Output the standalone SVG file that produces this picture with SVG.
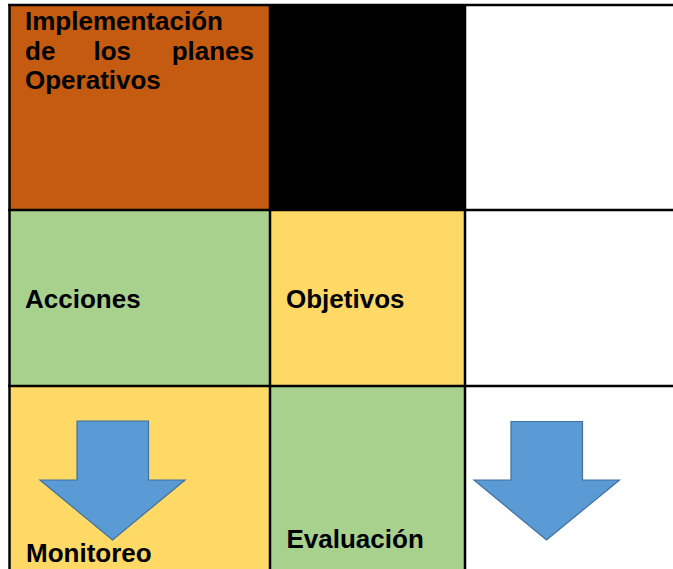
<svg xmlns="http://www.w3.org/2000/svg" width="673" height="569" viewBox="0 0 673 569">
<style>
.t{font-family:"Liberation Sans",Arial,sans-serif;font-weight:bold;font-size:26px;fill:#000}
.g{stroke:#000;stroke-width:2.5;fill:none}
.arrow{fill:#5B9BD5;stroke:#41719C;stroke-width:1.2}
</style>
<rect width="673" height="569" fill="#fff"/>
<g id="cell-implementacion">
<rect x="10" y="5" width="260" height="205" fill="#C55A11"/>
<text class="t" x="25" y="30">Implementación</text>
<text class="t" x="25" y="59.5">de</text>
<text class="t" x="93.5" y="59.5">los</text>
<text class="t" x="254" y="59.5" text-anchor="end">planes</text>
<text class="t" x="25" y="89">Operativos</text>
</g>
<g id="cell-black"><rect x="270" y="5" width="195" height="205" fill="#000"/></g>
<g id="cell-acciones">
<rect x="10" y="210" width="260" height="176" fill="#A9D18E"/>
<text class="t" x="25" y="307.5">Acciones</text>
</g>
<g id="cell-objetivos">
<rect x="270" y="210" width="195" height="176" fill="#FFD966"/>
<text class="t" x="286" y="307.5">Objetivos</text>
</g>
<g id="cell-monitoreo">
<rect x="10" y="386" width="260" height="183" fill="#FFD966"/>
<text class="t" x="26" y="562">Monitoreo</text>
</g>
<g id="cell-evaluacion">
<rect x="270" y="386" width="195" height="183" fill="#A9D18E"/>
<text class="t" x="286.5" y="547.5">Evaluación</text>
</g>
<g id="grid">
<line class="g" x1="8" y1="5" x2="673" y2="5"/>
<line class="g" x1="9.5" y1="4" x2="9.5" y2="569"/>
<line class="g" x1="270" y1="4" x2="270" y2="569"/>
<line class="g" x1="465" y1="4" x2="465" y2="569"/>
<line class="g" x1="8" y1="210" x2="673" y2="210"/>
<line class="g" x1="8" y1="386" x2="673" y2="386"/>
</g>
<g id="arrow-monitoreo">
<polygon class="arrow" points="77,421 148.5,421 148.5,480 185,480 112.5,540 40,480 77,480"/>
</g>
<g id="arrow-right">
<polygon class="arrow" points="511,421.5 582.5,421.5 582.5,480 619.5,480 546.5,540 474,480 511,480"/>
</g>
</svg>
